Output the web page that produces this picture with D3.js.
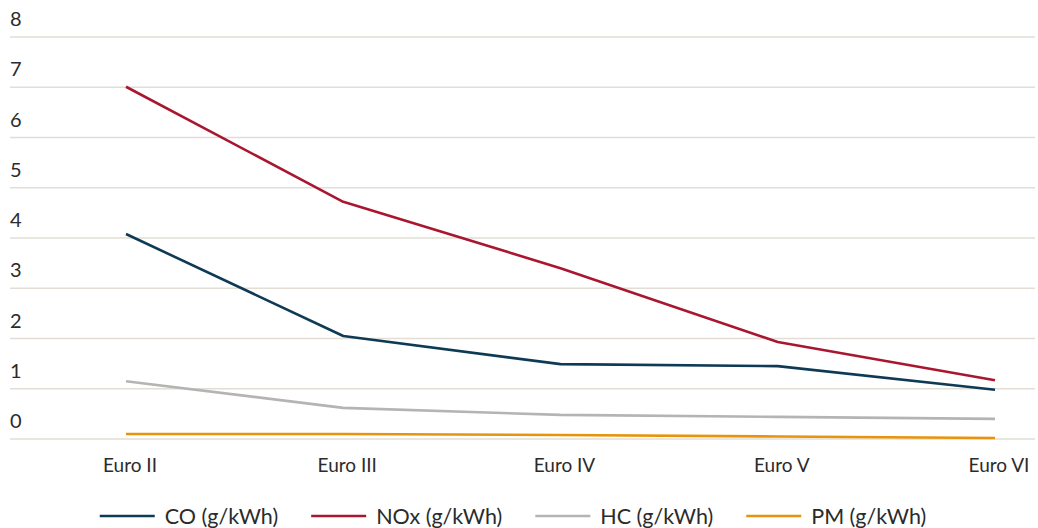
<!DOCTYPE html>
<html><head><meta charset="utf-8">
<script src="https://cdn.jsdelivr.net/npm/d3@7"></script>
<style>
body{margin:0;background:#fff;}
text{font-family:Lato,"Open Sans",sans-serif;fill:#2b2b2b;}
</style></head>
<body><svg id="c" width="1038" height="528"></svg>
<script>
const categories = ["Euro II","Euro III","Euro IV","Euro V","Euro VI"];
const seriesNames = ["CO (g/kWh)","NOx (g/kWh)","HC (g/kWh)","PM (g/kWh)"];
const coValues  = [4.08, 2.05, 1.49, 1.45, 0.98];
const noxValues = [7.01, 4.72, 3.40, 1.93, 1.17];
const hcValues  = [1.15, 0.62, 0.48, 0.44, 0.40];
const pmValues  = [0.10, 0.10, 0.08, 0.05, 0.02];
const yTicks = [0,1,2,3,4,5,6,7,8];
const colors = ["#0e3a55","#a8172f","#b4b4b4","#e8930c"];

const series = [coValues, noxValues, hcValues, pmValues];
const svg = d3.select("#c");
const x = d3.scalePoint().domain(categories).range([126, 995]);
const y = d3.scaleLinear().domain([0, 8]).range([439, 37]);

// gridlines + y labels
const yAxis = svg.append("g");
yAxis.selectAll("line").data(yTicks).join("line")
  .attr("x1", 10).attr("x2", 1035)
  .attr("y1", d => y(d)).attr("y2", d => y(d))
  .attr("stroke", "#e2ded6").attr("stroke-width", 1.3);
yAxis.selectAll("text").data(yTicks).join("text")
  .attr("x", 10).attr("y", d => y(d) - 11)
  .attr("font-size", 20).text(d => d);

// x labels
svg.append("g").selectAll("text").data(categories).join("text")
  .attr("x", d => x(d) + 4).attr("y", 472)
  .attr("text-anchor", "middle").attr("font-size", 19).text(d => d);

// lines
const line = d3.line().x((d, i) => x(categories[i])).y(d => y(d));
svg.append("g").selectAll("path").data(series).join("path")
  .attr("d", d => line(d)).attr("fill", "none")
  .attr("stroke", (d, i) => colors[i]).attr("stroke-width", 2.6)
  .attr("stroke-linejoin", "round");

// legend
const leg = svg.append("g");
const items = leg.selectAll("g").data(seriesNames).join("g");
items.append("line").attr("x1", 0).attr("x2", 55).attr("y1", 0).attr("y2", 0)
  .attr("stroke", (d, i) => colors[i]).attr("stroke-width", 2.6);
items.append("text").attr("x", 65).attr("y", 7.5).attr("font-size", 21.5).text(d => d);
let cx = 0;
const widths = [];
items.each(function(){ widths.push(this.getBBox().width); });
const gap = 33;
const total = d3.sum(widths) + gap * (widths.length - 1);
cx = 513 - total / 2;
items.attr("transform", (d, i) => {
  const t = `translate(${cx},516)`; cx += widths[i] + gap; return t;
});
</script></body></html>
